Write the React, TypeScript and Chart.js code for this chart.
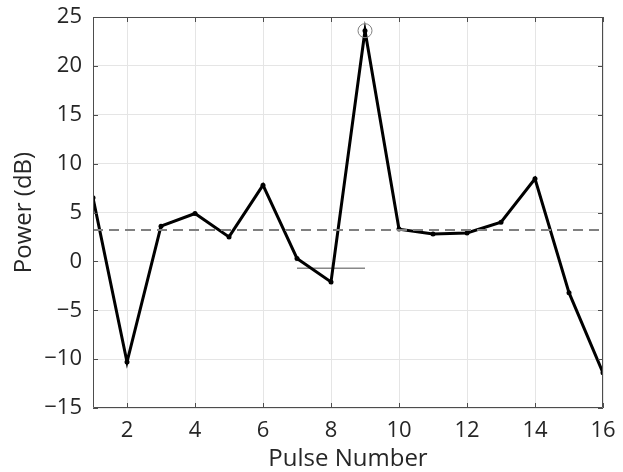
import React, { useEffect, useRef } from "react";
import { Chart, registerables } from "chart.js";

Chart.register(...registerables);

const pulses = [1, 2, 3, 4, 5, 6, 7, 8, 9, 10, 11, 12, 13, 14, 15, 16];
const powerDb = [6.5, -10.3, 3.6, 4.9, 2.5, 7.8, 0.3, -2.1, 23.6, 3.3, 2.8, 2.9, 4.0, 8.45, -3.2, -11.4];
const meanLevel = 3.2;
const meanRange = [1, 16];
const localLevel = -0.7;
const localRange = [7, 9];
const peakPulse = 9;
const xTickValues = [2, 4, 6, 8, 10, 12, 14, 16];
const yTickValues = [-15, -10, -5, 0, 5, 10, 15, 20, 25];

const FONT = "'Open Sans', 'Noto Sans', sans-serif";
const TEXT = "#262626";
const AXIS = "#4d4d4d";

const boxTicks = {
  id: "boxTicks",
  afterDraw(chart: any) {
    const { ctx, chartArea, scales } = chart;
    const { left, right, top, bottom } = chartArea;
    ctx.save();
    ctx.strokeStyle = AXIS;
    ctx.lineWidth = 1;
    ctx.beginPath();
    ctx.rect(left + 0.5, top + 0.5, right - left - 1, bottom - top - 1);
    ctx.stroke();
    const L = 5;
    ctx.beginPath();
    xTickValues.forEach((v) => {
      const px = Math.round(scales.x.getPixelForValue(v)) + 0.5;
      ctx.moveTo(px, bottom);
      ctx.lineTo(px, bottom - L);
      ctx.moveTo(px, top);
      ctx.lineTo(px, top + L);
    });
    yTickValues.forEach((v) => {
      const py = Math.round(scales.y.getPixelForValue(v)) + 0.5;
      ctx.moveTo(left, py);
      ctx.lineTo(left + L, py);
      ctx.moveTo(right, py);
      ctx.lineTo(right - L, py);
    });
    ctx.stroke();
    ctx.restore();
  },
};

export default function App() {
  const ref = useRef<HTMLCanvasElement | null>(null);

  useEffect(() => {
    if (!ref.current) return;
    const mainData = pulses.map((p, i) => ({ x: p, y: powerDb[i] }));
    const chart = new Chart(ref.current, {
      type: "line",
      data: {
        datasets: [
          {
            label: "mean",
            data: meanRange.map((x) => ({ x, y: meanLevel })),
            borderColor: "#808080",
            borderWidth: 2,
            borderDash: [10, 6],
            pointRadius: 0,
            order: 0,
          },
          {
            label: "peak",
            data: [{ x: peakPulse, y: powerDb[pulses.indexOf(peakPulse)] }],
            showLine: false,
            pointRadius: 7,
            pointBorderWidth: 1,
            pointBorderColor: "#808080",
            pointBackgroundColor: "rgba(0,0,0,0)",
            order: 1,
          },
          {
            label: "local",
            data: localRange.map((x) => ({ x, y: localLevel })),
            borderColor: "#888888",
            borderWidth: 1.5,
            pointRadius: 0,
            order: 3,
          },
          {
            label: "power",
            data: mainData,
            borderColor: "#000000",
            borderWidth: 3,
            pointRadius: 2.5,
            pointBorderWidth: 0,
            pointBackgroundColor: "#000000",
            order: 2,
          },
        ],
      },
      options: {
        animation: false,
        responsive: true,
        maintainAspectRatio: false,
        layout: { padding: { top: 17, right: 20, left: 0, bottom: 0 } },
        plugins: { legend: { display: false }, tooltip: { enabled: false } },
        scales: {
          x: {
            type: "linear",
            min: 1,
            max: 16,
            afterBuildTicks: (s: any) => {
              s.ticks = xTickValues.map((v) => ({ value: v }));
            },
            afterFit: (s: any) => {
              s.height = 64;
              s.paddingLeft = 0;
              s.paddingRight = 0;
            },
            grid: { color: "#e5e5e5", drawTicks: false, lineWidth: 1 },
            border: { display: false },
            ticks: {
              color: TEXT,
              font: { family: FONT, size: 22 },
              padding: 10,
              maxRotation: 0,
              autoSkip: false,
            },
            title: {
              display: true,
              text: "Pulse Number",
              color: TEXT,
              font: { family: FONT, size: 24, lineHeight: 1.1 },
              padding: { top: 0, bottom: 0 },
            },
          },
          y: {
            type: "linear",
            min: -15,
            max: 25,
            afterBuildTicks: (s: any) => {
              s.ticks = yTickValues.map((v) => ({ value: v }));
            },
            afterFit: (s: any) => {
              s.width = 93;
              s.paddingTop = 0;
              s.paddingBottom = 0;
            },
            grid: { color: "#e5e5e5", drawTicks: false, lineWidth: 1 },
            border: { display: false },
            ticks: {
              color: TEXT,
              font: { family: FONT, size: 22 },
              padding: 11,
              callback: (v: any) => (Number(v) < 0 ? "\u2212" + Math.abs(Number(v)) : String(v)),
            },
            title: {
              display: true,
              text: "Power (dB)",
              color: TEXT,
              font: { family: FONT, size: 24 },
              padding: { top: 10, bottom: 0 },
            },
          },
        },
      },
      plugins: [boxTicks],
    });
    return () => chart.destroy();
  }, []);

  return (
    <div style={{ position: "fixed", left: 0, top: 0, width: 623, height: 472, background: "#fff" }}>
      <canvas ref={ref} />
    </div>
  );
}
